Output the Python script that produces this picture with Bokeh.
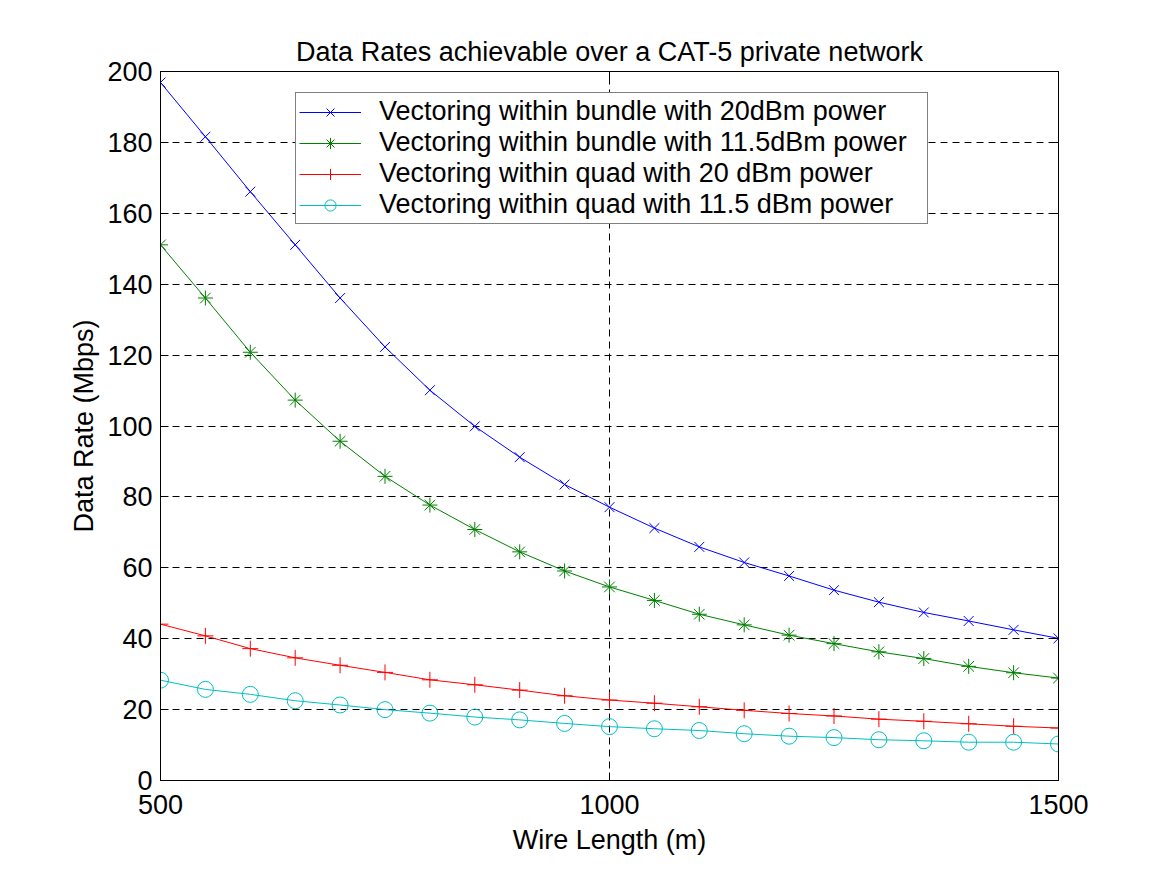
from bokeh.plotting import figure
from bokeh.models import LinearAxis, FixedTicker, Legend, LegendItem, Range1d
from bokeh.embed import file_html
from bokeh.resources import INLINE

# ---- data ----
wire_length = [500, 550, 600, 650, 700, 750, 800, 850, 900, 950, 1000,
               1050, 1100, 1150, 1200, 1250, 1300, 1350, 1400, 1450, 1500]
bundle_20dbm = [196.9, 181.6, 166.1, 151.1, 136.1, 122.3, 110.1, 99.9, 91.2, 83.5, 77.1,
                71.2, 65.9, 61.5, 57.7, 53.7, 50.3, 47.4, 45.0, 42.5, 40.1]
bundle_11_5dbm = [151.1, 136.1, 120.8, 107.3, 95.7, 85.8, 77.7, 70.8, 64.5, 59.1, 54.6,
                  50.8, 46.9, 43.9, 41.0, 38.6, 36.3, 34.4, 32.2, 30.4, 28.9]
quad_20dbm = [44.1, 40.8, 37.2, 34.6, 32.5, 30.5, 28.4, 27.0, 25.5, 23.9, 22.7,
              21.8, 20.8, 19.8, 18.9, 18.2, 17.3, 16.7, 16.0, 15.3, 14.8]
quad_11_5dbm = [28.3, 25.7, 24.3, 22.5, 21.3, 20.0, 19.0, 17.9, 17.1, 16.1, 15.2,
                14.6, 14.1, 13.2, 12.5, 12.1, 11.5, 11.2, 10.8, 10.8, 10.3]

series_labels = ["Vectoring within bundle with 20dBm power",
                 "Vectoring within bundle with 11.5dBm power",
                 "Vectoring within quad with 20 dBm power",
                 "Vectoring within quad with 11.5 dBm power"]
x_ticks = [500, 1000, 1500]
y_ticks = [0, 20, 40, 60, 80, 100, 120, 140, 160, 180, 200]

title_text = "Data Rates achievable over a CAT-5 private network"
x_label = "Wire Length (m)"
y_label = "Data Rate (Mbps)"

FONT = "Liberation Sans"
FS = "27px"

p = figure(width=1140, height=860, output_backend="svg", toolbar_location=None,
           x_range=Range1d(500, 1500), y_range=Range1d(0, 200),
           min_border_left=160, min_border_right=82, min_border_top=71, min_border_bottom=80,
           title=title_text)

p.background_fill_color = "white"
p.border_fill_color = "white"
p.outline_line_color = "black"
p.outline_line_width = 1

p.title.text_font = FONT
p.title.text_font_size = FS
p.title.text_font_style = "normal"
p.title.align = "center"
p.title.text_color = "black"

def style_axis(ax, ticks, show_labels):
    ax.ticker = FixedTicker(ticks=ticks)
    ax.major_tick_in = 8
    ax.major_tick_out = 0
    ax.minor_tick_line_color = None
    ax.axis_line_color = "black"
    ax.major_tick_line_color = "black"
    ax.major_label_text_font = FONT
    if show_labels:
        ax.major_label_text_font_size = FS
        ax.major_label_text_color = "black"
    else:
        ax.major_label_text_color = None
        ax.major_label_standoff = 0

style_axis(p.xaxis[0], x_ticks, True)
style_axis(p.yaxis[0], y_ticks, True)
p.xaxis[0].major_label_standoff = 14
p.yaxis[0].major_label_standoff = 8
p.xaxis[0].axis_label = x_label
p.yaxis[0].axis_label = y_label
for ax in (p.xaxis[0], p.yaxis[0]):
    ax.axis_label_text_font = FONT
    ax.axis_label_text_font_size = FS
    ax.axis_label_text_font_style = "normal"
    ax.axis_label_text_color = "black"
p.xaxis[0].axis_label_standoff = 8
p.yaxis[0].axis_label_standoff = 5

right_ax = LinearAxis()
style_axis(right_ax, y_ticks, False)
p.add_layout(right_ax, "right")
top_ax = LinearAxis()
style_axis(top_ax, x_ticks, False)
p.add_layout(top_ax, "above")

p.xgrid.ticker = FixedTicker(ticks=x_ticks)
p.ygrid.ticker = FixedTicker(ticks=y_ticks)
for g in (p.xgrid, p.ygrid):
    g.grid_line_color = "black"
    g.grid_line_dash = "7 5"
    g.grid_line_width = 1

colors = ["#0000FF", "#008000", "#FF0000", "#00BFBF"]
markers = ["x", "asterisk", "cross", "circle"]
sizes = [14, 15, 16, 16]
values = [bundle_20dbm, bundle_11_5dbm, quad_20dbm, quad_11_5dbm]

items = []
for lab, col, mk, sz, ys in zip(series_labels, colors, markers, sizes, values):
    lr = p.line(wire_length, ys, line_color=col, line_width=1)
    sr = p.scatter(wire_length, ys, marker=mk, size=sz, line_color=col,
                   fill_color=None, line_width=1)
    items.append(LegendItem(label=lab, renderers=[lr, sr]))

legend = Legend(items=items, location=(135, 556))
legend.label_text_font = FONT
legend.label_text_font_size = FS
legend.label_text_color = "black"
legend.border_line_color = "black"
legend.border_line_width = 1
legend.background_fill_color = "white"
legend.background_fill_alpha = 1
legend.glyph_width = 62
legend.glyph_height = 28
legend.label_height = 28
legend.label_width = 545
legend.label_standoff = 18
legend.padding = 3
legend.spacing = 0
legend.margin = 0
p.add_layout(legend)

open("out.html", "w").write(file_html(p, INLINE))
